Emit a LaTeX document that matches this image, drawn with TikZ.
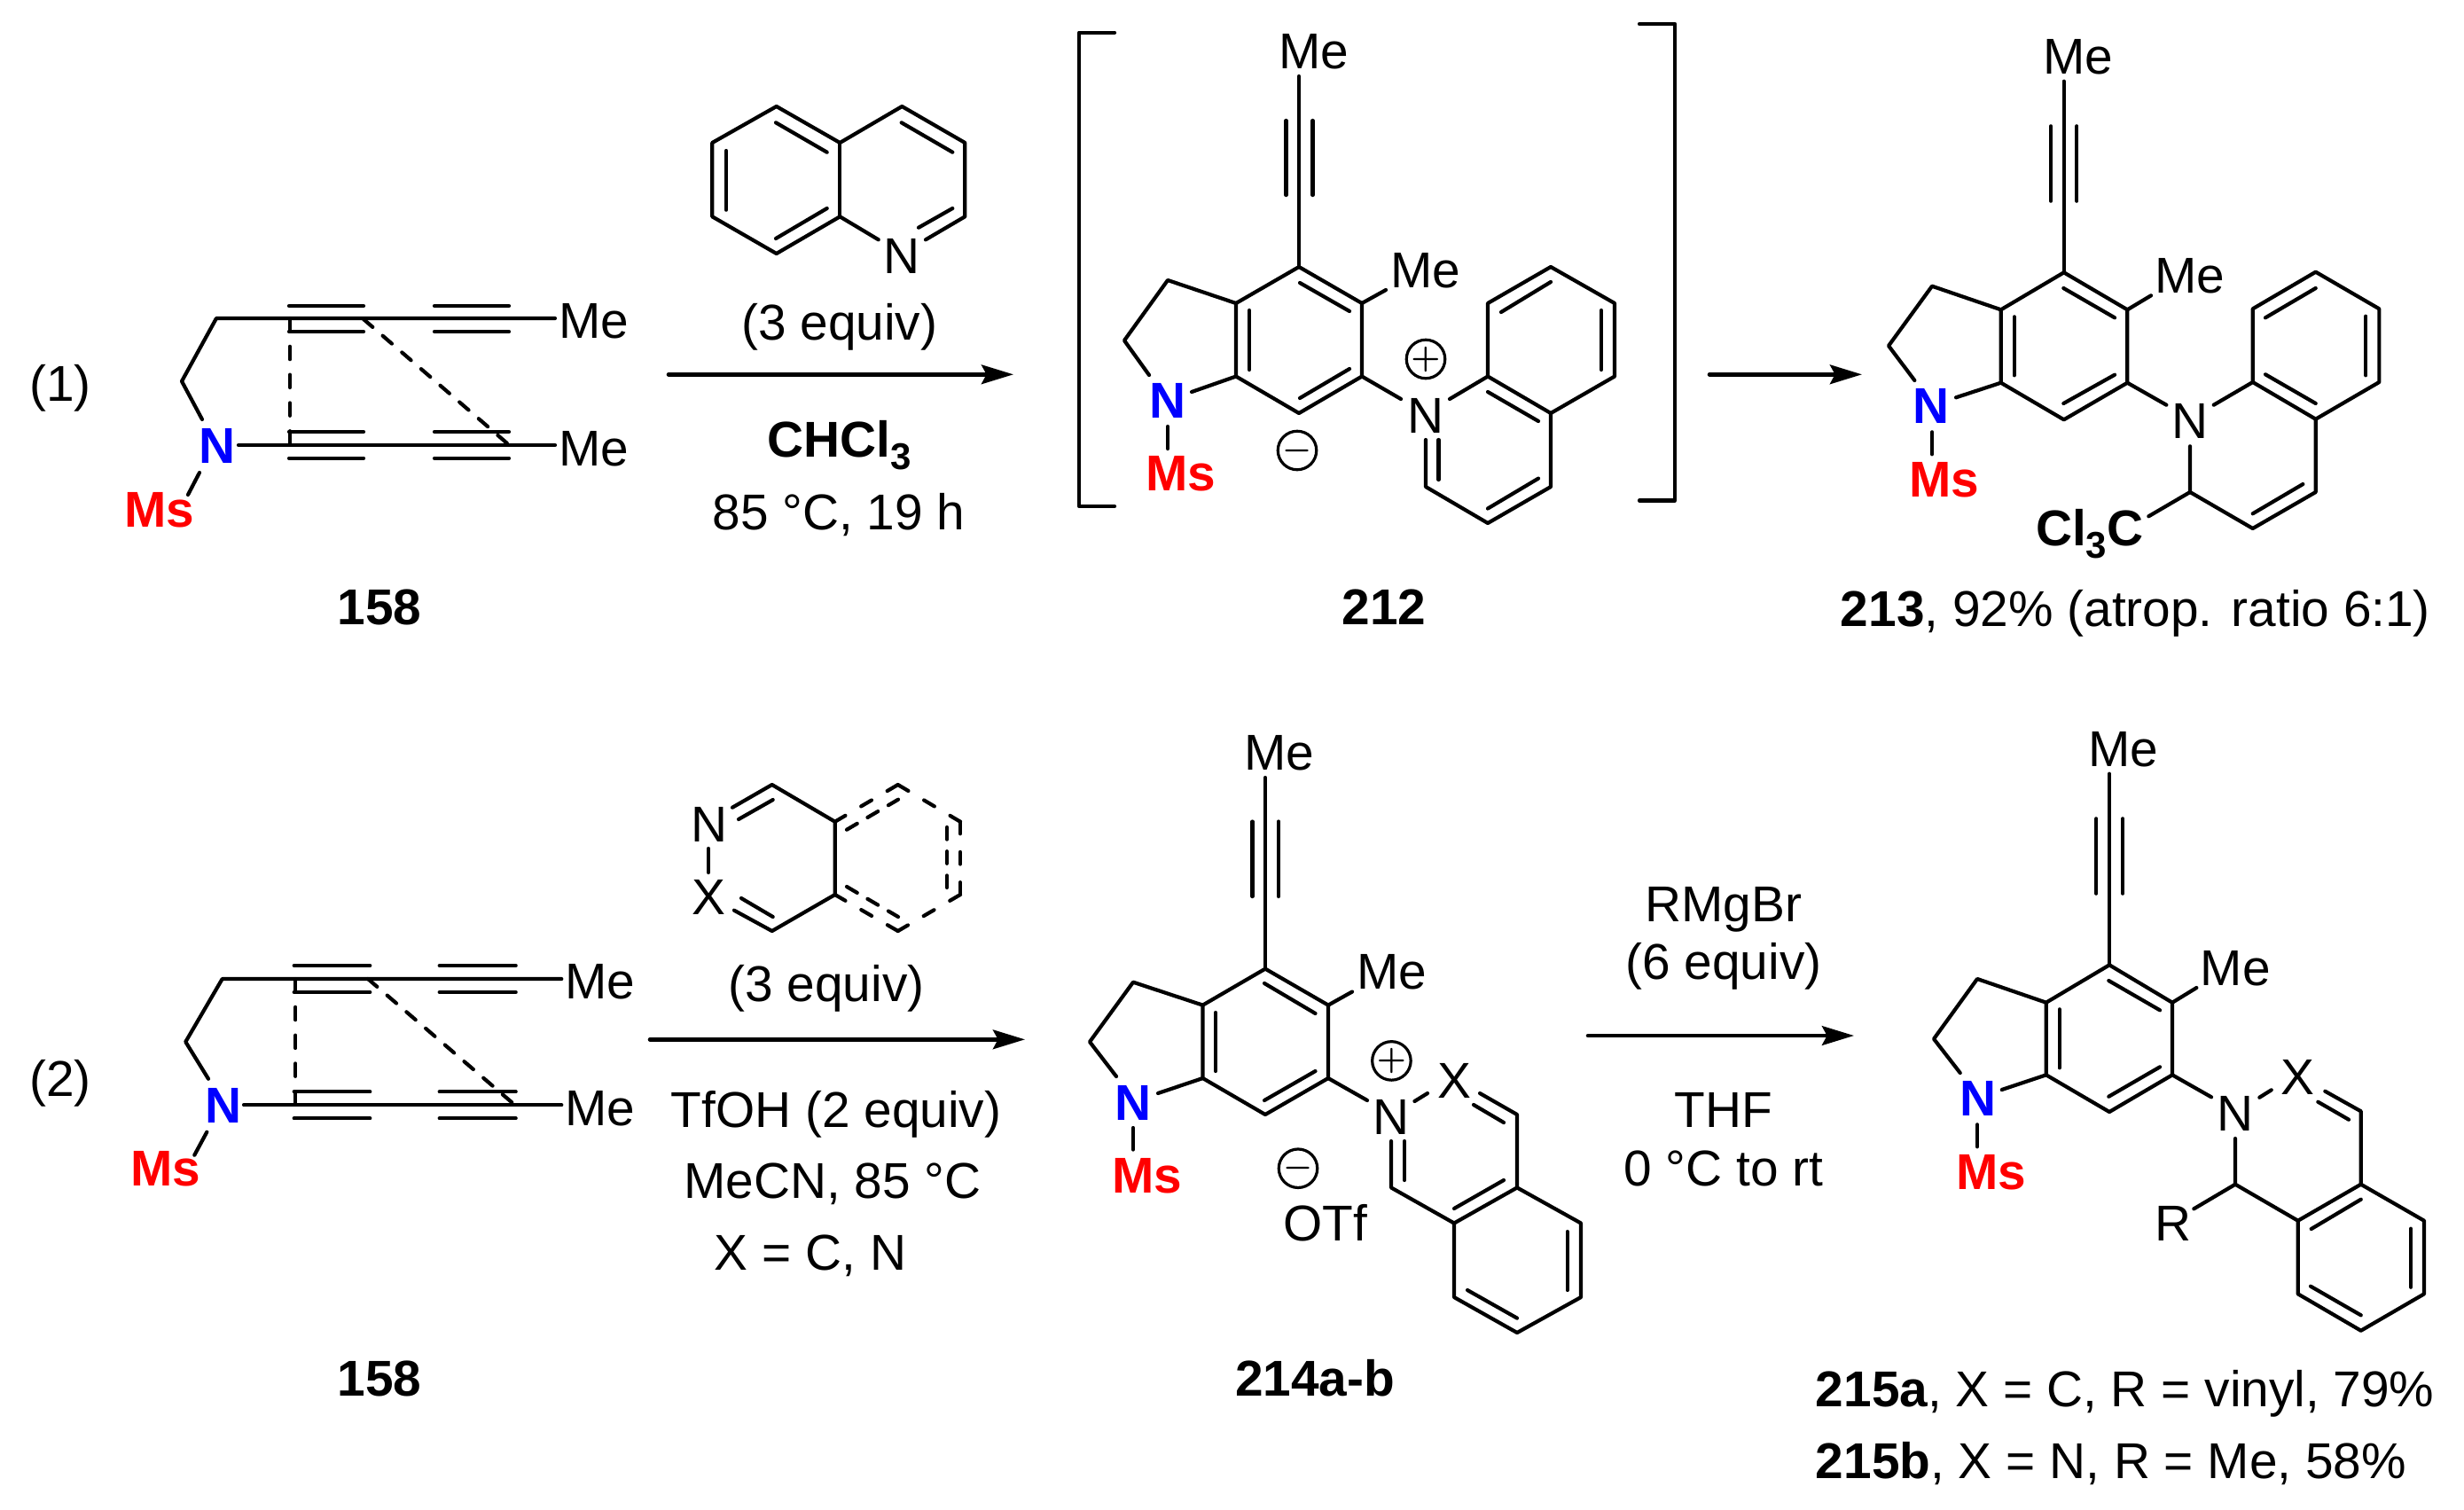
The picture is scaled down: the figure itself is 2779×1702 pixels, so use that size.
\documentclass[tikz,border=0pt]{standalone}
\usepackage{fontspec}
\setmainfont{Liberation Sans}
\usetikzlibrary{arrows.meta}
\newcommand{\chemsub}[1]{\raisebox{-3.6pt}{\fontsize{10.5}{10.5}\selectfont #1}}
\tikzset{
	bond/.style={line width=1.05pt},
	rxnarrow/.style={line width=1.15pt,-{Stealth[length=9pt,width=5.4pt,inset=1.4pt]}},
	vdash/.style={bond,dash pattern=on 3.6pt off 4.35pt},
	ddash/.style={bond,dash pattern=on 3.4pt off 3.75pt},
	hexdash/.style={bond,dash pattern=on 3.4pt off 5.15pt},
	hexdashin/.style={bond,dash pattern=on 3.4pt off 3.4pt},
	txt/.style={anchor=base,inner sep=0pt,font=\fontsize{14.2}{14.2}\selectfont},
	boldtxt/.style={txt,font=\fontsize{14.2}{14.2}\selectfont\bfseries},
	nitro/.style={boldtxt,text=blue},
	msgrp/.style={boldtxt,text=red},
	chg/.style={circle,draw,line width=0.8pt,inner sep=0pt,minimum size=10.6pt,font=\fontsize{9}{9}\selectfont\boldmath}
}
\begin{document}
\begin{tikzpicture}[line cap=round,line join=round,x=0.25pt,y=-0.25pt]
		\useasboundingbox (0,0) rectangle (2779,1702);
		% scheme labels
		\node [txt] (eq1) at (68,452) {(1)};
		\node [txt] (eq2) at (68,1236.7) {(2)};
		% 158, upper
		\node [nitro] (n158a) at (245,522.7) {N};
		\node [msgrp] (ms158a) at (180,594) {Ms};
		\node [txt] (mea) at (670,381.7) {Me};
		\node [txt] (meb) at (670,525) {Me};
		\node [boldtxt] (lab158a) at (428,704.3) {158};
		\draw [bond] (228,473)-- (205,430)-- (244,359)-- (626,359);
		\draw [bond] (269,502)-- (626,502);
		\draw [bond] (225,533)-- (212,558);
		\draw [bond] (326,345)-- (410,345);
		\draw [bond] (326,374)-- (410,374);
		\draw [bond] (490,345)-- (574,345);
		\draw [bond] (490,374)-- (574,374);
		\draw [bond] (326,487)-- (410,487);
		\draw [bond] (326,516.7)-- (410,516.7);
		\draw [bond] (490,487)-- (574,487);
		\draw [bond] (490,516.7)-- (574,516.7);
		\draw [vdash] (327,359)-- (327,502);
		\draw [ddash] (410,360)-- (572,500);
		% first arrow, upper
		\coordinate (arra1) at (754,422.3);
		\coordinate (arra2) at (1143,422.3);
		\draw [rxnarrow] (arra1)-- (arra2);
		% quinoline
		\node [txt] (nquin) at (1016.7,308.3) {N};
		\draw [bond] (990.7,270.3)-- (947.3,244.3)-- (875.7,286)-- (803.3,244.3)-- (803.3,161)-- (875.7,120)-- (947.3,161)-- (1017.3,120)-- (1088.3,161)-- (1088.3,244.3)-- (1044,270.3);
		\draw [bond] (947.3,161)-- (947.3,244.3);
		\draw [bond] (819,170)-- (819,236.7);
		\draw [bond] (875,138.3)-- (932.7,171.7);
		\draw [bond] (875,269)-- (932.7,235);
		\draw [bond] (1016.7,138.3)-- (1074.3,171.7);
		\draw [bond] (1036,256.7)-- (1074.3,235);
		\node [txt] (equiva) at (946.7,383.3) {(3 equiv)};
		\node [boldtxt] (chcl) at (947,515) {CHCl\chemsub{3}};
		\node [txt] (conda) at (946,597.3) {85 °C, 19 h};
		% 212
		\draw [bond] (1257,36.7)-- (1217,36.7)-- (1217,571)-- (1257,571);
		\draw [bond] (1849,27)-- (1889,27)-- (1889,564.5)-- (1849,564.5);
		\node [txt] (me212a) at (1482,77.5) {Me};
		\node [txt] (me212b) at (1608,324.5) {Me};
		\node [nitro] (n212) at (1317,471.4) {N};
		\node [msgrp] (ms212) at (1332,553) {Ms};
		\node [txt] (np212) at (1608,488) {N};
		\node [chg] (plus212) at (1608,405) {$+$};
		\node [chg] (minus212) at (1463,508) {$-$};
		\node [boldtxt] (lab212) at (1561,704.3) {212};
		\draw [bond] (1465,86)-- (1465,301);
		\draw [bond] (1450.5,136)-- (1450.5,220);
		\draw [bond] (1480.5,136)-- (1480.5,220);
		\draw [bond] (1465,301)-- (1536,342)-- (1536,424.5)-- (1465,466)-- (1394,424.5)-- (1394,342)-- cycle;
		\draw [bond] (1394,342)-- (1317,316)-- (1268,384)-- (1296,423);
		\draw [bond] (1394,424.5)-- (1344,442);
		\draw [bond] (1317,481)-- (1317,506);
		\draw [bond] (1409,350)-- (1409,417);
		\draw [bond] (1466,319)-- (1522,351);
		\draw [bond] (1466,449)-- (1522,416);
		\draw [bond] (1536,342)-- (1563,327);
		\draw [bond] (1536,424.5)-- (1580,450);
		\draw [bond] (1635,450)-- (1678,424.5)-- (1749,466)-- (1821,424.5)-- (1821,342)-- (1749,301)-- (1678,342)-- (1678,424.5);
		\draw [bond] (1749,466)-- (1749,549)-- (1678,590)-- (1608,549)-- (1608,496);
		\draw [bond] (1622.5,496)-- (1622.5,541);
		\draw [bond] (1678,573.5)-- (1735,539.6);
		\draw [bond] (1678,442)-- (1735,475);
		\draw [bond] (1693,352)-- (1749,318);
		\draw [bond] (1806,350)-- (1806,417);
		% second arrow, upper
		\coordinate (arrb1) at (1928,422.3);
		\coordinate (arrb2) at (2100,422.3);
		\draw [rxnarrow] (arrb1)-- (arrb2);
		% 213
		\node [txt] (me213a) at (2344,83.3) {Me};
		\node [txt] (me213b) at (2470,330.7) {Me};
		\node [nitro] (n213) at (2178.3,477.7) {N};
		\node [msgrp] (ms213) at (2193,560) {Ms};
		\node [txt] (nq213) at (2470,494.3) {N};
		\node [boldtxt,anchor=base east] (ccl213) at (2418,615) {Cl\chemsub{3}C};
		\node [txt,anchor=base west] (lab213) at (2075,706) {\textbf{213}, 92\% (atrop. ratio 6:1)};
		\draw [bond] (2327.7,91.7)-- (2327.7,307.3);
		\draw [bond] (2313,142.3)-- (2313,226.7);
		\draw [bond] (2342.3,142.3)-- (2342.3,226.7);
		\draw [bond] (2327.7,307.3)-- (2399.3,349.3)-- (2399.3,431.7)-- (2327.7,473.3)-- (2256.7,431.7)-- (2256.7,349.3)-- cycle;
		\draw [bond] (2256.7,349.3)-- (2179,322.7)-- (2130,390)-- (2159.3,429);
		\draw [bond] (2256.7,431.7)-- (2206,448.3);
		\draw [bond] (2179,487.3)-- (2179,512.3);
		\draw [bond] (2271.7,357.3)-- (2271.7,423.3);
		\draw [bond] (2327.3,325)-- (2385,358.3);
		\draw [bond] (2327.3,455)-- (2385,422.7);
		\draw [bond] (2399.3,349.3)-- (2426,333.3);
		\draw [bond] (2399.3,431.7)-- (2443.3,456.7);
		\draw [bond] (2496.7,456.7)-- (2540.7,431)-- (2611.7,472.7)-- (2683.3,431)-- (2683.3,348.3)-- (2611.7,306.7)-- (2540.7,348.3)-- (2540.7,431);
		\draw [bond] (2611.7,472.7)-- (2611.7,555)-- (2540.7,596)-- (2470,555)-- (2470,503.3);
		\draw [bond] (2470,555)-- (2423.3,582.3);
		\draw [bond] (2540.7,579.3)-- (2597.3,546);
		\draw [bond] (2668.3,356.7)-- (2668.3,423.3);
		\draw [bond] (2555,358.3)-- (2611.7,325);
		\draw [bond] (2555,422.3)-- (2611.7,455);
		% 158, lower
		\node [nitro] (n158b) at (251.7,1266.7) {N};
		\node [msgrp] (ms158b) at (187,1337.7) {Ms};
		\node [txt] (mec) at (676.7,1126.7) {Me};
		\node [txt] (med) at (676.7,1269) {Me};
		\node [boldtxt] (lab158b) at (428,1574) {158};
		\draw [bond] (235,1216.7)-- (209.3,1175)-- (250.7,1104)-- (633.3,1104);
		\draw [bond] (275,1246.3)-- (633.3,1246.3);
		\draw [bond] (233.3,1276.7)-- (219.3,1302.7);
		\draw [bond] (331.7,1089)-- (417.3,1089);
		\draw [bond] (331.7,1119)-- (417.3,1119);
		\draw [bond] (495.7,1089)-- (581.7,1089);
		\draw [bond] (495.7,1119)-- (581.7,1119);
		\draw [bond] (331.7,1231.3)-- (417.3,1231.3);
		\draw [bond] (331.7,1261.3)-- (417.3,1261.3);
		\draw [bond] (495.7,1231.3)-- (581.7,1231.3);
		\draw [bond] (495.7,1261.3)-- (581.7,1261.3);
		\draw [vdash] (333.3,1104)-- (333.3,1246.3);
		\draw [ddash] (415,1104)-- (579.3,1245);
		% first arrow, lower
		\coordinate (arrc1) at (733,1172.3);
		\coordinate (arrc2) at (1156,1172.3);
		\draw [rxnarrow] (arrc1)-- (arrc2);
		% diazine reagent
		\node [txt] (nreag) at (799.5,949.3) {N};
		\node [txt] (xreag) at (799,1031.7) {X};
		\draw [bond] (799,957)-- (799,984);
		\draw [bond] (826,910.7)-- (870.7,885)-- (941.7,926.7)-- (941.7,1009)-- (870.7,1050)-- (828,1026.7);
		\draw [bond] (833,924)-- (871.7,902);
		\draw [bond] (836,1013)-- (871.7,1034);
		\draw [hexdash] (941.7,926.7)-- (1012.7,885);
		\draw [hexdash] (1012.7,885)-- (1083,926.7);
		\draw [hexdash] (1083,926.7)-- (1083,1009);
		\draw [hexdash] (1083,1009)-- (1012.7,1050);
		\draw [hexdash] (1012.7,1050)-- (941.7,1009);
		\draw [hexdashin] (955,935.7)-- (1013,901.7);
		\draw [hexdashin] (1068,933)-- (1068,1001.7);
		\draw [hexdashin] (955,1000)-- (1013,1034);
		\node [txt] (equivb) at (932,1129) {(3 equiv)};
		\node [txt] (tfoh) at (943,1271) {TfOH (2 equiv)};
		\node [txt] (mecn) at (939,1351) {MeCN, 85 °C};
		\node [txt] (xcn) at (914,1432) {X = C, N};
		% 214a-b
		\node [txt] (me214a) at (1443,868) {Me};
		\node [txt] (me214b) at (1570,1115) {Me};
		\node [nitro] (n214) at (1278.4,1263.4) {N};
		\node [msgrp] (ms214) at (1294,1345) {Ms};
		\node [txt] (np214) at (1569,1279) {N};
		\node [txt] (x214) at (1640,1238) {X};
		\node [chg] (plus214) at (1569.4,1196.4) {$+$};
		\node [chg] (minus214) at (1464,1317.7) {$-$};
		\node [txt] (otf) at (1495,1399) {OTf};
		\node [boldtxt] (lab214) at (1483,1574) {214a-b};
		\draw [bond] (1427,877)-- (1427,1092.6);
		\draw [bond] (1412.4,926.5)-- (1412.4,1011);
		\draw [bond] (1442,926.5)-- (1442,1011);
		\draw [bond] (1427,1092.6)-- (1498,1133.6)-- (1498,1216)-- (1427,1257)-- (1356.5,1216)-- (1356.5,1133.6)-- cycle;
		\draw [bond] (1356.5,1133.6)-- (1278,1107.7)-- (1229,1175)-- (1259,1214);
		\draw [bond] (1356.5,1216)-- (1306,1233);
		\draw [bond] (1278,1272)-- (1278,1296.5);
		\draw [bond] (1371,1142)-- (1371,1208);
		\draw [bond] (1426,1109)-- (1483.5,1143);
		\draw [bond] (1426,1241)-- (1483.5,1208);
		\draw [bond] (1498,1133.6)-- (1525,1118.5);
		\draw [bond] (1498,1216)-- (1542,1241);
		\draw [bond] (1595.4,1242)-- (1610,1233);
		\draw [bond] (1669,1233)-- (1711,1257)-- (1711,1339.4)-- (1640,1379.5)-- (1569,1339.4)-- (1569,1287);
		\draw [bond] (1662,1246)-- (1696,1266);
		\draw [bond] (1584,1287)-- (1584,1331);
		\draw [bond] (1640,1363)-- (1696,1331);
		\draw [bond] (1711,1339.4)-- (1783,1379.5)-- (1783,1463)-- (1711,1503)-- (1640,1463)-- (1640,1379.5);
		\draw [bond] (1767.6,1389)-- (1767.6,1455);
		\draw [bond] (1655,1455)-- (1711,1486.6);
		% second arrow, lower
		\coordinate (arrd1) at (1791,1168);
		\coordinate (arrd2) at (2091,1168);
		\draw [rxnarrow] (arrd1)-- (arrd2);
		\node [txt] (rmgbr) at (1944,1039) {RMgBr};
		\node [txt] (equivc) at (1944,1104) {(6 equiv)};
		\node [txt] (thf) at (1944,1271) {THF};
		\node [txt] (condb) at (1944,1337) {0 °C to rt};
		% 215a-b
		\node [txt] (me215a) at (2395,864.3) {Me};
		\node [txt] (me215b) at (2521.3,1111.7) {Me};
		\node [nitro] (n215) at (2230.7,1258.3) {N};
		\node [msgrp] (ms215) at (2246,1341) {Ms};
		\node [txt] (nq215) at (2521,1275.7) {N};
		\node [txt] (x215) at (2591.7,1234.3) {X};
		\node [txt] (r215) at (2451,1399) {R};
		\node [txt,anchor=base west] (lab215a) at (2047,1586.7) {\textbf{215a}, X = C, R = vinyl, 79\%};
		\node [txt,anchor=base west] (lab215b) at (2047,1667.3) {\textbf{215b}, X = N, R = Me, 58\%};
		\draw [bond] (2379,872.7)-- (2379,1088.3);
		\draw [bond] (2364.3,923.3)-- (2364.3,1007.7);
		\draw [bond] (2394,923.3)-- (2394,1007.7);
		\draw [bond] (2379,1088.3)-- (2450,1130.7)-- (2450,1212.3)-- (2379,1254)-- (2307.7,1212.3)-- (2307.7,1130.7)-- cycle;
		\draw [bond] (2307.7,1130.7)-- (2230,1104)-- (2181,1171.7)-- (2210.7,1210);
		\draw [bond] (2307.7,1212.3)-- (2257.7,1229);
		\draw [bond] (2230,1268.3)-- (2230,1293.3);
		\draw [bond] (2322.7,1138.3)-- (2322.7,1204.3);
		\draw [bond] (2378.3,1106)-- (2436,1139.3);
		\draw [bond] (2378.3,1236.7)-- (2436,1203.3);
		\draw [bond] (2450,1130.7)-- (2477.3,1114);
		\draw [bond] (2450,1212.3)-- (2494,1237.3);
		\draw [bond] (2548.3,1237.7)-- (2561.7,1229.3);
		\draw [bond] (2622.3,1230.7)-- (2662.7,1253.3)-- (2662.7,1335.7)-- (2591.7,1376.7)-- (2521,1335.7)-- (2521,1284);
		\draw [bond] (2614.3,1242.7)-- (2649,1262.7);
		\draw [bond] (2521,1335.7)-- (2474.3,1363.3);
		\draw [bond] (2606.7,1386)-- (2662.7,1352.7);
		\draw [bond] (2662.7,1335.7)-- (2734,1376.7)-- (2734,1459.3)-- (2662.7,1500.7)-- (2591.7,1459.3)-- (2591.7,1376.7);
		\draw [bond] (2719,1385.7)-- (2719,1451.7);
		\draw [bond] (2606,1450.7)-- (2662.7,1483.3);
		\end{tikzpicture}
\end{document}
